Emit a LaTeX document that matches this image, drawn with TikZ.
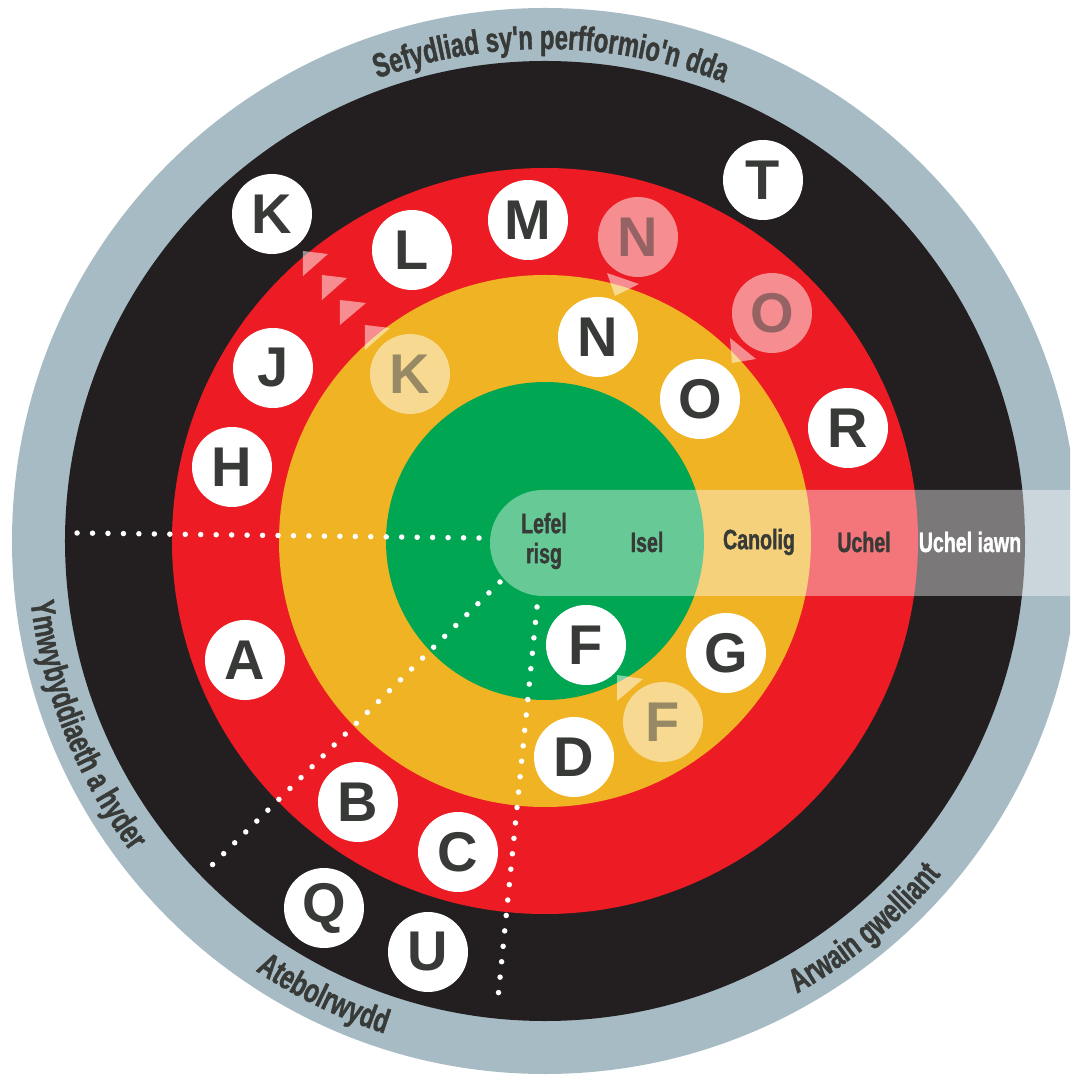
\documentclass[tikz,border=0pt]{standalone}
\usepackage{fontspec}
\setmainfont{Liberation Sans}
\newfontfamily\condfont[FakeStretch=0.7, BoldFeatures={FakeBold=1.2}]{Liberation Sans}
\usetikzlibrary{decorations.text}
\definecolor{ringgrey}{HTML}{A7BBC5}
\definecolor{ringblack}{HTML}{231F20}
\definecolor{ringred}{HTML}{ED1C24}
\definecolor{ringyellow}{HTML}{F0B323}
\definecolor{ringgreen}{HTML}{00A651}
\definecolor{inktext}{HTML}{383A38}
\newcommand\ringfont{\condfont\bfseries\fontsize{34}{34}\selectfont}
\begin{document}
\begin{tikzpicture}[x=1pt,y=1pt,
  letter/.style={circle, fill=white, minimum size=80pt, inner sep=0pt, text=inktext, font=\bfseries\fontsize{56}{56}\selectfont},
  faded/.style={letter, fill opacity=0.5, text opacity=0.5},
  ghostarrow/.style={fill=white, fill opacity=0.5},
  dots/.style={white, line width=5.5pt, line cap=round, dash pattern=on 0pt off #1},
  dots/.default=15.5pt,
  bartext/.style={text=inktext, font=\condfont\bfseries\fontsize{28}{30}\selectfont, align=center},
  ringlabel/.style={decorate, decoration={text along path, text align=center, text color=inktext, text={#1}}},
]
\useasboundingbox (-545,-534) rectangle (525,541);
\clip (-545,-534) rectangle (525,541);
% rings
\fill[ringgrey] (0,0) circle[radius=533];
\fill[ringblack] (0,0) circle[radius=480];
\fill[ringred] (0,0) circle[radius=373];
\fill[ringyellow] (0,0) circle[radius=266];
\fill[ringgreen] (0,0) circle[radius=159];
% dotted dividers
\coordinate (h1) at (-468,8);
\coordinate (h2) at (-66,3);
\coordinate (d1) at (-45,-41);
\coordinate (d2) at (-340,-331);
\coordinate (v1) at (-8,-66);
\coordinate (v2) at (-48,-467);
\draw[dots=15.46pt] (h2) -- (h1);
\draw[dots] (d1) -- (d2);
\draw[dots] (v1) -- (v2);
% risk level bar
\fill[white, fill opacity=0.4] (525,51) -- (-2,51) arc[start angle=90, end angle=270, radius=53] -- (525,-55) -- cycle;
\node[bartext] (lefel) at (-1,0) {Lefel\\risg};
\node[bartext] (isel) at (102,-1) {Isel};
\node[bartext] (canolig) at (214,-1) {Canolig};
\node[bartext] (uchel) at (319,-1) {Uchel};
\node[bartext, text=white] (uchiawn) at (425,-1) {Uchel iawn};
% letter circles
\node[letter] (cT) at (218,361) {T};
\node[letter] (cK) at (-273,327) {K};
\node[letter] (cL) at (-133,291) {L};
\node[letter] (cM) at (-17,321) {M};
\node[letter] (cN) at (53,204) {N};
\node[letter] (cO) at (155,142) {O};
\node[letter] (cR) at (303,113) {R};
\node[letter] (cJ) at (-272,173) {J};
\node[letter] (cH) at (-313,74) {H};
\node[letter] (cA) at (-300,-119) {A};
\node[letter] (cF) at (41,-104) {F};
\node[letter] (cG) at (181,-112) {G};
\node[letter] (cD) at (29,-216) {D};
\node[letter] (cB) at (-187,-261) {B};
\node[letter] (cC) at (-87,-311) {C};
\node[letter] (cQ) at (-221,-367) {Q};
\node[letter] (cU) at (-117,-411) {U};
% faded (moved) positions
\node[faded] (fN) at (93,304) {N};
\node[faded] (fO) at (227,228) {O};
\node[faded] (fK) at (-135,167) {K};
\node[faded] (fF) at (118,-181) {F};
% ghost arrow heads
\fill[ghostarrow] (-242,290) -- (-217,287) -- (-242,265) -- cycle;
\fill[ghostarrow] (-223,266) -- (-198,263) -- (-223,241) -- cycle;
\fill[ghostarrow] (-205,241) -- (-179,238) -- (-205,216) -- cycle;
\fill[ghostarrow] (-180,216) -- (-155,213) -- (-180,191) -- cycle;
\fill[ghostarrow] (62,268) -- (94,257) -- (70,245) -- cycle;
\fill[ghostarrow] (185,203) -- (211,182) -- (187,178) -- cycle;
\fill[ghostarrow] (72,-134) -- (98,-138) -- (72,-160) -- cycle;
% ring labels
\path[ringlabel={|\ringfont|Sefydliad sy'n perfformio'n dda}] (139.3:492) arc[start angle=139.3, end angle=39.3, radius=492];
\path[ringlabel={|\ringfont|Ymwybyddiaeth a hyder}] (171.8:518) arc[start angle=171.8, end angle=231.8, radius=518];
\path[ringlabel={|\ringfont|Atebolrwydd}] (214:518) arc[start angle=214, end angle=274, radius=518];
\path[ringlabel={|\ringfont|Arwain gwelliant}] (279.5:518) arc[start angle=279.5, end angle=339.5, radius=518];
\end{tikzpicture}
\end{document}
